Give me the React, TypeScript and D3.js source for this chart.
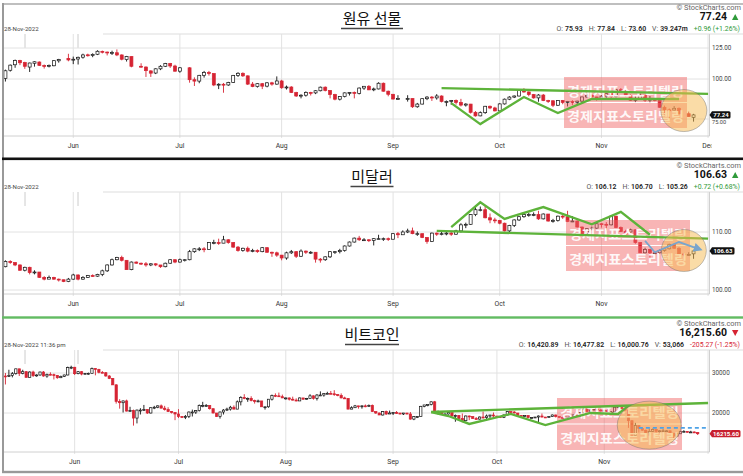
import React from "react";
import * as d3 from "d3";

type Bar = [string, number, number, number, number];

// WTI crude oil futures, daily [date, open, high, low, close]
const oilBars: Bar[] = [
  ["05-12",100.5,107.0,98.2,106.1],["05-13",106.5,111.0,105.5,110.5],["05-16",110.8,115.0,108.4,114.2],["05-17",114.3,114.8,110.5,112.4],
  ["05-18",112.6,113.2,107.6,109.6],["05-19",109.0,112.5,105.2,112.2],["05-20",112.0,113.6,109.3,113.2],["05-23",113.0,113.5,109.8,110.3],
  ["05-24",110.2,111.0,107.8,109.8],["05-25",109.9,111.0,108.7,110.3],["05-26",110.0,114.5,109.6,114.1],["05-27",114.0,115.6,112.5,115.1],
  ["05-31",116.0,119.9,113.6,114.7],["06-01",114.8,117.5,111.3,115.3],["06-02",115.5,117.5,111.0,116.9],["06-03",117.0,120.0,115.8,118.9],
  ["06-06",119.0,120.0,117.5,118.5],["06-07",118.4,120.3,117.0,119.4],["06-08",119.5,123.0,118.8,122.1],["06-09",122.0,122.7,120.2,121.5],
  ["06-10",121.4,121.8,118.5,120.7],["06-13",120.6,122.6,118.9,120.9],["06-14",120.8,123.7,117.9,118.9],["06-15",118.9,119.4,114.4,115.3],
  ["06-16",115.0,118.1,113.4,117.6],["06-17",117.5,117.8,108.8,109.6],["06-21",109.6,112.0,108.5,109.5],["06-22",109.0,109.5,101.5,106.2],
  ["06-23",106.0,106.5,101.5,104.3],["06-24",104.4,108.0,103.6,107.6],["06-27",107.6,110.5,106.6,109.6],["06-28",109.6,112.3,109.0,111.8],
  ["06-29",111.8,112.3,108.3,109.8],["06-30",109.8,110.8,105.4,105.8],["07-01",105.8,109.0,104.6,108.4],["07-05",108.4,108.9,97.4,99.5],
  ["07-06",99.5,101.2,95.1,98.5],["07-07",98.5,103.0,97.0,102.7],["07-08",102.7,106.0,101.0,104.8],["07-11",104.8,106.0,102.5,104.1],
  ["07-12",104.0,104.3,95.0,95.8],["07-13",95.8,97.0,93.0,96.3],["07-14",96.3,97.2,90.6,95.8],["07-15",95.8,98.0,95.2,97.6],
  ["07-18",97.6,103.0,97.2,102.6],["07-19",102.6,105.0,101.5,104.2],["07-20",104.2,104.9,101.5,102.3],["07-21",102.3,102.6,95.8,96.4],
  ["07-22",96.4,97.9,94.3,94.7],["07-25",94.7,97.0,94.0,96.7],["07-26",96.7,97.2,93.0,95.0],["07-27",95.0,97.8,94.2,97.3],
  ["07-28",97.3,98.0,95.3,96.4],["07-29",96.4,101.9,96.0,98.6],["08-01",98.6,99.4,93.2,93.9],["08-02",93.9,95.4,92.7,94.4],
  ["08-03",94.4,95.0,90.4,90.7],["08-04",90.7,91.2,87.9,88.5],["08-05",88.5,89.6,87.0,89.0],["08-08",89.0,91.5,88.1,90.8],
  ["08-09",90.8,91.2,88.8,90.5],["08-10",90.5,92.3,89.7,91.9],["08-11",91.9,94.7,91.5,94.3],["08-12",94.3,94.8,91.5,92.1],
  ["08-15",92.1,92.2,87.0,89.4],["08-16",89.4,89.9,85.8,86.5],["08-17",86.5,88.4,85.7,88.1],["08-18",88.1,90.8,87.6,90.5],
  ["08-19",90.5,91.0,88.8,90.8],["08-22",90.8,91.4,87.0,90.2],["08-23",90.2,94.1,89.5,93.7],["08-24",93.7,95.0,92.5,94.9],
  ["08-25",94.9,95.7,92.3,92.5],["08-26",92.5,94.0,91.6,93.1],["08-29",93.1,97.7,92.8,97.0],["08-30",97.0,97.5,91.3,91.6],
  ["08-31",91.6,92.0,88.3,89.6],["09-01",89.6,89.8,86.2,86.6],["09-02",86.6,89.0,86.3,86.9],["09-06",86.9,89.0,85.0,86.9],
  ["09-07",86.9,87.0,81.2,81.9],["09-08",81.9,84.2,81.3,83.5],["09-09",83.5,87.0,83.3,86.8],["09-12",86.8,88.4,85.9,87.8],
  ["09-13",87.8,88.5,85.4,87.3],["09-14",87.3,89.7,86.2,88.5],["09-15",88.5,88.9,84.5,85.1],["09-16",85.1,85.7,82.2,85.1],
  ["09-19",85.1,86.0,83.1,85.7],["09-20",85.7,86.3,83.2,84.5],["09-21",84.5,86.7,82.1,82.9],["09-22",82.9,84.0,82.0,83.5],
  ["09-23",83.5,83.6,78.0,78.7],["09-26",78.7,79.4,76.3,76.7],["09-27",76.7,79.2,76.5,78.5],["09-28",78.5,82.4,77.8,82.2],
  ["09-29",82.2,82.6,80.5,81.2],["09-30",81.2,81.9,79.2,79.5],["10-03",79.5,84.0,79.3,83.6],["10-04",83.6,86.9,83.2,86.5],
  ["10-05",86.5,88.4,85.9,87.8],["10-06",87.8,88.8,87.2,88.5],["10-07",88.5,93.0,88.2,92.6],["10-10",92.6,93.6,90.6,91.1],
  ["10-11",91.1,91.4,88.3,89.4],["10-12",89.4,89.8,86.8,87.3],["10-13",87.3,89.7,84.9,89.1],["10-14",89.1,89.8,85.3,85.6],
  ["10-17",85.6,86.1,84.2,85.5],["10-18",85.5,85.8,81.7,82.8],["10-19",82.8,85.8,82.5,85.6],["10-20",85.6,86.0,83.4,84.5],
  ["10-21",84.5,85.4,82.1,85.1],["10-24",85.1,85.9,82.9,84.6],["10-25",84.6,85.5,83.2,85.3],["10-26",85.3,88.0,84.8,87.9],
  ["10-27",87.9,89.8,87.4,89.1],["10-28",89.1,89.2,86.7,87.9],["10-31",87.9,88.0,85.6,86.5],["11-01",86.5,89.1,86.0,88.4],
  ["11-02",88.4,90.3,87.4,90.0],["11-03",90.0,90.1,87.2,88.2],["11-04",88.2,92.9,87.6,92.6],["11-07",92.6,93.7,91.1,91.8],
  ["11-08",91.8,92.4,88.2,88.9],["11-09",88.9,89.5,85.4,85.8],["11-10",85.8,88.5,84.7,86.5],["11-11",86.5,90.1,86.2,89.0],
  ["11-14",89.0,89.2,84.8,85.9],["11-15",85.9,88.5,84.6,86.9],["11-16",86.9,87.3,85.2,85.6],["11-17",85.6,85.7,81.3,81.6],
  ["11-18",81.6,82.6,77.2,80.1],["11-21",80.1,80.9,75.1,80.0],["11-22",80.0,82.3,79.8,81.0],["11-23",81.0,81.5,77.4,77.9],
  ["11-25",77.9,79.1,76.2,76.3],["11-28",75.93,77.84,73.6,77.24],
];

// US dollar index, daily [date, open, high, low, close]
const dollarBars: Bar[] = [
  ["05-12",103.9,105.0,103.8,104.8],["05-13",104.8,105.0,104.4,104.6],["05-16",104.6,104.7,104.0,104.2],["05-17",104.2,104.3,103.2,103.3],
  ["05-18",103.3,103.9,103.1,103.8],["05-19",103.8,103.9,102.6,102.9],["05-20",102.9,103.3,102.6,103.0],["05-23",103.0,103.0,102.0,102.1],
  ["05-24",102.1,102.3,101.6,101.8],["05-25",101.8,102.4,101.8,102.1],["05-26",102.1,102.2,101.7,101.8],["05-27",101.8,101.9,101.4,101.7],
  ["05-30",101.7,101.7,101.3,101.4],["05-31",101.4,102.0,101.3,101.8],["06-01",101.8,102.7,101.7,102.5],["06-02",102.5,102.6,101.6,101.8],
  ["06-03",101.8,102.3,101.7,102.1],["06-06",102.1,102.5,102.0,102.4],["06-07",102.4,102.6,102.2,102.3],["06-08",102.3,102.7,102.2,102.6],
  ["06-09",102.6,103.4,102.3,103.2],["06-10",103.2,104.3,103.0,104.2],["06-13",104.2,105.3,104.1,105.1],["06-14",105.1,105.6,105.0,105.5],
  ["06-15",105.5,105.8,104.8,105.0],["06-16",105.0,105.0,103.4,103.4],["06-17",103.4,104.8,103.3,104.7],["06-20",104.7,104.8,104.4,104.5],
  ["06-21",104.5,104.6,104.2,104.4],["06-22",104.4,104.7,103.9,104.2],["06-23",104.2,104.5,104.0,104.4],["06-24",104.4,104.5,104.0,104.2],
  ["06-27",104.2,104.2,103.7,103.9],["06-28",103.9,104.6,103.8,104.5],["06-29",104.5,105.2,104.4,105.1],["06-30",105.1,105.2,104.5,104.7],
  ["07-01",104.7,105.3,104.6,105.1],["07-04",105.1,105.2,104.8,105.1],["07-05",105.1,106.8,105.0,106.5],["07-06",106.5,107.1,106.3,107.0],
  ["07-07",107.0,107.3,106.6,107.0],["07-08",107.0,107.3,106.4,106.9],["07-11",106.9,108.2,106.9,108.1],["07-12",108.1,108.6,107.8,108.1],
  ["07-13",108.1,108.8,107.7,108.0],["07-14",108.0,109.3,108.0,108.6],["07-15",108.6,108.7,107.9,108.1],["07-18",108.1,108.2,107.2,107.3],
  ["07-19",107.3,107.5,106.5,106.7],["07-20",106.7,107.2,106.5,107.1],["07-21",107.1,107.4,106.4,106.6],["07-22",106.6,107.0,106.4,106.7],
  ["07-25",106.7,106.9,106.3,106.5],["07-26",106.5,107.3,106.4,107.2],["07-27",107.2,107.3,106.3,106.4],["07-28",106.4,106.5,105.6,106.3],
  ["07-29",106.3,106.5,105.6,105.9],["08-01",105.9,105.9,105.0,105.4],["08-02",105.4,106.5,105.1,106.3],["08-03",106.3,106.8,106.1,106.5],
  ["08-04",106.5,106.6,105.4,105.7],["08-05",105.7,106.9,105.6,106.6],["08-08",106.6,106.7,106.1,106.4],["08-09",106.4,106.6,106.1,106.4],
  ["08-10",106.4,106.4,104.6,105.2],["08-11",105.2,105.4,104.6,105.1],["08-12",105.1,105.7,104.9,105.6],["08-15",105.6,106.6,105.4,106.5],
  ["08-16",106.5,106.6,106.1,106.5],["08-17",106.5,107.0,106.2,106.7],["08-18",106.7,107.6,106.5,107.5],["08-19",107.5,108.3,107.4,108.2],
  ["08-22",108.2,109.0,108.1,108.9],["08-23",108.9,109.3,108.4,108.6],["08-24",108.6,108.9,108.4,108.6],["08-25",108.6,108.7,108.2,108.5],
  ["08-26",108.5,108.9,107.6,108.8],["08-29",108.8,109.5,108.7,108.8],["08-30",108.8,109.0,108.4,108.8],["08-31",108.8,109.0,108.4,108.7],
  ["09-01",108.7,109.8,108.7,109.7],["09-02",109.7,110.0,108.9,109.5],["09-05",109.5,110.3,109.5,110.0],["09-06",110.0,110.6,109.8,110.2],
  ["09-07",110.2,110.8,109.6,109.7],["09-08",109.7,110.1,109.3,109.7],["09-09",109.7,109.7,108.9,109.0],["09-12",109.0,109.1,107.9,108.3],
  ["09-13",108.3,109.9,108.2,109.8],["09-14",109.8,109.9,109.3,109.6],["09-15",109.6,110.0,109.4,109.7],["09-16",109.7,110.2,109.4,109.8],
  ["09-19",109.8,110.0,109.3,109.6],["09-20",109.6,110.4,109.5,110.2],["09-21",110.2,111.6,109.9,111.3],["09-22",111.3,111.7,110.7,111.4],
  ["09-23",111.4,113.3,111.3,113.2],["09-26",113.2,114.6,112.9,114.1],["09-27",114.1,114.7,113.8,114.1],["09-28",114.1,114.8,112.5,112.6],
  ["09-29",112.6,113.4,111.6,112.2],["09-30",112.2,112.6,111.6,112.1],["10-03",112.1,112.2,111.4,111.6],["10-04",111.6,111.7,110.1,110.2],
  ["10-05",110.2,111.3,110.0,111.2],["10-06",111.2,112.3,110.9,112.2],["10-07",112.2,112.9,112.0,112.8],["10-10",112.8,113.3,112.6,113.2],
  ["10-11",113.2,113.5,112.8,113.2],["10-12",113.2,113.6,112.9,113.2],["10-13",113.2,113.9,112.2,112.4],["10-14",112.4,113.4,112.3,113.3],
  ["10-17",113.3,113.3,111.9,112.0],["10-18",112.0,112.4,111.7,112.1],["10-19",112.1,113.0,111.9,112.9],["10-20",112.9,113.1,112.4,112.8],
  ["10-21",112.8,113.9,111.8,111.9],["10-24",111.9,112.9,111.8,112.0],["10-25",112.0,112.1,110.8,110.9],["10-26",110.9,111.0,109.6,109.7],
  ["10-27",109.7,110.7,109.5,110.6],["10-28",110.6,111.0,110.3,110.7],["10-31",110.7,111.6,110.6,111.5],["11-01",111.5,111.6,110.8,111.4],
  ["11-02",111.4,111.8,110.3,111.3],["11-03",111.3,113.1,111.2,112.9],["11-04",112.9,113.0,110.7,110.8],["11-07",110.8,111.0,110.0,110.1],
  ["11-08",110.1,110.4,109.4,109.6],["11-09",110.0,110.6,109.5,110.4],["11-10",110.4,110.5,107.9,108.1],["11-11",108.1,108.2,106.3,106.3],
  ["11-14",106.3,107.2,106.2,106.9],["11-15",106.9,107.0,105.3,106.3],["11-16",106.3,106.5,106.0,106.3],["11-17",106.3,106.9,106.1,106.7],
  ["11-18",106.7,107.2,106.5,107.0],["11-21",107.0,107.9,106.9,107.8],["11-22",107.8,108.0,107.0,107.1],["11-23",107.1,107.3,106.0,106.1],
  ["11-24",106.1,106.2,105.7,106.0],["11-25",106.0,106.4,105.8,106.0],["11-28",106.12,106.7,105.26,106.63],
];

// Bitcoin, 7 days a week, in thousands of USD [date, open, high, low, close]
const btcBars: Bar[] = [
  ["05-12",29.1,30.0,26.7,29.0],["05-13",29.0,31.0,28.8,29.3],["05-14",29.3,30.3,28.7,29.8],["05-15",29.8,31.3,29.5,31.3],
  ["05-16",31.3,31.3,29.1,29.9],["05-17",29.9,31.0,29.6,30.4],["05-18",30.4,30.6,28.7,28.7],["05-19",28.7,30.5,28.7,30.3],
  ["05-20",30.3,30.7,28.8,29.2],["05-21",29.2,29.6,28.9,29.4],["05-22",29.4,30.4,29.2,30.3],["05-23",30.3,30.6,28.9,29.1],
  ["05-24",29.1,29.8,28.6,29.6],["05-25",29.6,30.2,29.3,29.5],["05-26",29.5,29.8,28.1,29.3],["05-27",29.3,29.4,28.3,28.6],
  ["05-28",28.6,29.2,28.5,29.0],["05-29",29.0,29.5,28.8,29.4],["05-30",29.4,32.0,29.3,31.7],["05-31",31.7,32.3,31.2,31.8],
  ["06-01",31.8,31.9,29.4,29.8],["06-02",29.8,30.6,29.6,30.4],["06-03",30.4,30.6,29.3,29.7],["06-04",29.7,29.9,29.5,29.9],
  ["06-05",29.9,30.1,29.5,29.9],["06-06",29.9,31.7,29.9,31.4],["06-07",31.4,31.5,29.3,31.1],["06-08",31.1,31.3,29.9,30.2],
  ["06-09",30.2,30.6,30.0,30.1],["06-10",30.1,30.3,28.9,29.1],["06-11",29.1,29.4,28.2,28.4],["06-12",28.4,28.5,26.6,26.6],
  ["06-13",26.6,26.8,22.0,22.5],["06-14",22.5,23.0,20.9,22.2],["06-15",22.2,22.7,20.1,22.6],["06-16",22.6,22.9,20.3,20.4],
  ["06-17",20.4,21.3,20.3,20.5],["06-18",20.5,20.7,17.6,19.0],["06-19",19.0,20.7,18.0,20.6],["06-20",20.6,21.0,19.7,20.6],
  ["06-21",20.6,21.7,20.4,20.7],["06-22",20.7,20.8,19.8,20.0],["06-23",20.0,21.2,19.9,21.1],["06-24",21.1,21.5,20.8,21.2],
  ["06-25",21.2,21.6,21.0,21.5],["06-26",21.5,21.8,21.0,21.0],["06-27",21.0,21.5,20.5,20.7],["06-28",20.7,21.2,20.2,20.3],
  ["06-29",20.3,20.4,19.9,20.1],["06-30",20.1,20.1,18.6,19.8],["07-01",19.8,20.8,19.0,19.3],["07-02",19.3,19.4,19.0,19.2],
  ["07-03",19.2,19.6,18.8,19.3],["07-04",19.3,20.3,19.0,20.2],["07-05",20.2,20.7,19.3,20.2],["07-06",20.2,20.6,19.8,20.5],
  ["07-07",20.5,21.8,20.3,21.6],["07-08",21.6,22.4,21.2,21.6],["07-09",21.6,21.9,21.3,21.6],["07-10",21.6,21.6,20.7,20.9],
  ["07-11",20.9,20.9,19.9,20.0],["07-12",20.0,20.0,19.2,19.3],["07-13",19.3,20.3,18.9,20.2],["07-14",20.2,20.8,19.7,20.6],
  ["07-15",20.6,21.1,20.4,20.8],["07-16",20.8,21.5,20.5,21.2],["07-17",21.2,21.6,20.8,20.8],["07-18",20.8,22.7,20.8,22.4],
  ["07-19",22.4,23.7,21.6,23.4],["07-20",23.4,24.2,23.0,23.2],["07-21",23.2,23.4,22.4,23.2],["07-22",23.2,23.7,22.5,22.7],
  ["07-23",22.7,22.9,22.0,22.5],["07-24",22.5,22.9,22.3,22.6],["07-25",22.6,22.6,21.3,21.3],["07-26",21.3,21.3,20.7,21.3],
  ["07-27",21.3,23.0,21.1,23.0],["07-28",23.0,24.1,22.7,23.9],["07-29",23.9,24.4,23.5,23.8],["07-30",23.8,24.6,23.6,23.6],
  ["07-31",23.6,24.1,23.3,23.3],["08-01",23.3,23.4,22.9,23.3],["08-02",23.3,23.4,22.7,23.0],["08-03",23.0,23.6,22.7,22.8],
  ["08-04",22.8,23.2,22.5,22.6],["08-05",22.6,23.4,22.6,23.3],["08-06",23.3,23.3,22.9,23.0],["08-07",23.0,23.3,22.9,23.2],
  ["08-08",23.2,24.2,23.2,23.8],["08-09",23.8,23.9,22.9,23.2],["08-10",23.2,24.2,22.7,24.0],["08-11",24.0,24.9,23.9,24.0],
  ["08-12",24.0,24.4,23.6,24.4],["08-13",24.4,24.8,24.3,24.4],["08-14",24.4,25.0,24.2,24.3],["08-15",24.3,25.2,23.8,24.1],
  ["08-16",24.1,24.2,23.7,23.9],["08-17",23.9,24.4,23.2,23.3],["08-18",23.3,23.6,23.1,23.2],["08-19",23.2,23.2,20.8,20.8],
  ["08-20",20.8,21.4,20.8,21.1],["08-21",21.1,21.7,21.1,21.5],["08-22",21.5,21.5,20.9,21.4],["08-23",21.4,21.6,20.9,21.5],
  ["08-24",21.5,21.8,21.2,21.4],["08-25",21.4,21.8,21.3,21.6],["08-26",21.6,21.8,20.2,20.3],["08-27",20.3,20.3,19.8,20.0],
  ["08-28",20.0,20.1,19.6,19.6],["08-29",19.6,20.4,19.5,20.3],["08-30",20.3,20.5,19.6,19.8],["08-31",19.8,20.5,19.8,20.0],
  ["09-01",20.0,20.2,19.6,20.1],["09-02",20.1,20.4,19.8,20.0],["09-03",20.0,20.0,19.7,19.8],["09-04",19.8,20.0,19.6,20.0],
  ["09-05",20.0,20.0,19.7,19.8],["09-06",19.8,20.2,18.7,18.8],["09-07",18.8,19.4,18.6,19.3],["09-08",19.3,19.4,19.0,19.3],
  ["09-09",19.3,21.5,19.3,21.4],["09-10",21.4,21.7,21.2,21.7],["09-11",21.7,21.8,21.4,21.8],["09-12",21.8,22.5,21.6,22.4],
  ["09-13",22.4,22.6,20.0,20.2],["09-14",20.2,20.5,19.7,20.2],["09-15",20.2,20.3,19.6,19.7],["09-16",19.7,19.9,19.5,19.8],
  ["09-17",19.8,20.2,19.7,20.1],["09-18",20.1,20.1,19.4,19.4],["09-19",19.4,19.7,18.3,19.5],["09-20",19.5,19.6,18.8,18.9],
  ["09-21",18.9,19.9,18.2,18.5],["09-22",18.5,19.5,18.4,19.4],["09-23",19.4,19.5,18.6,19.3],["09-24",19.3,19.3,18.9,18.9],
  ["09-25",18.9,19.2,18.7,18.8],["09-26",18.8,19.3,18.7,19.2],["09-27",19.2,20.3,18.9,19.1],["09-28",19.1,19.7,18.5,19.4],
  ["09-29",19.4,19.6,18.9,19.6],["09-30",19.6,20.1,19.2,19.4],["10-01",19.4,19.4,19.2,19.3],["10-02",19.3,19.4,19.0,19.1],
  ["10-03",19.1,19.7,19.0,19.6],["10-04",19.6,20.4,19.5,20.3],["10-05",20.3,20.3,19.8,20.2],["10-06",20.2,20.4,19.9,20.0],
  ["10-07",20.0,20.0,19.3,19.5],["10-08",19.5,19.6,19.3,19.4],["10-09",19.4,19.5,19.3,19.5],["10-10",19.5,19.5,19.0,19.1],
  ["10-11",19.1,19.2,18.9,19.1],["10-12",19.1,19.2,19.0,19.2],["10-13",19.2,19.5,18.2,19.4],["10-14",19.4,19.9,19.1,19.2],
  ["10-15",19.2,19.2,19.0,19.1],["10-16",19.1,19.4,19.1,19.3],["10-17",19.3,19.7,19.2,19.6],["10-18",19.6,19.7,19.1,19.3],
  ["10-19",19.3,19.4,19.1,19.1],["10-20",19.1,19.3,18.9,19.0],["10-21",19.0,19.2,18.7,19.2],["10-22",19.2,19.3,19.1,19.2],
  ["10-23",19.2,19.7,19.1,19.6],["10-24",19.6,19.6,19.2,19.3],["10-25",19.3,20.4,19.3,20.1],["10-26",20.1,21.0,20.1,20.8],
  ["10-27",20.8,20.9,20.2,20.3],["10-28",20.3,20.7,20.0,20.6],["10-29",20.6,21.0,20.6,20.8],["10-30",20.8,20.9,20.5,20.6],
  ["10-31",20.6,20.8,20.3,20.5],["11-01",20.5,20.6,20.3,20.5],["11-02",20.5,20.8,20.1,20.2],["11-03",20.2,20.4,20.1,20.2],
  ["11-04",20.2,21.3,20.2,21.2],["11-05",21.2,21.5,21.1,21.3],["11-06",21.3,21.4,20.9,20.9],["11-07",20.9,21.0,20.4,20.6],
  ["11-08",20.6,20.7,17.2,18.5],["11-09",18.5,18.6,15.7,15.9],["11-10",15.9,18.1,15.8,17.6],["11-11",17.6,17.6,16.4,17.1],
  ["11-12",17.1,17.1,16.7,16.8],["11-13",16.8,16.9,16.3,16.4],["11-14",16.4,17.1,15.9,16.6],["11-15",16.6,17.1,16.5,16.9],
  ["11-16",16.9,17.0,16.4,16.6],["11-17",16.6,16.8,16.4,16.7],["11-18",16.7,17.0,16.6,16.7],["11-19",16.7,16.8,16.6,16.7],
  ["11-20",16.7,16.7,16.2,16.3],["11-21",16.3,16.3,15.5,15.8],["11-22",15.8,16.3,15.7,16.2],["11-23",16.2,16.7,16.2,16.6],
  ["11-24",16.6,16.8,16.5,16.6],["11-25",16.6,16.6,16.4,16.5],["11-26",16.5,16.7,16.4,16.5],["11-27",16.5,16.6,16.4,16.4],
  ["11-28",16.42089,16.47782,16.00076,16.2156],
];

const oilTicks = [125, 100, 75];
const dollarTicks = [110, 100];
const btcTicks = [30000, 20000];

const GREEN = "#5db33a";
const RED = "#d62433";
const UI_FONT = "Roboto, 'Open Sans', sans-serif";
const KR_FONT = "'Noto Sans CJK KR', 'Noto Sans', sans-serif";
const STAMP = "경제지표스토리텔링";

// --- x scales ---
const key = d3.timeFormat("%m-%d");
const toDate = (k: string) => new Date(2022, +k.slice(0, 2) - 1, +k.slice(3));
const start = new Date(2022, 4, 12);
const end = new Date(2022, 11, 1);
const weekdays = d3.timeDay.range(start, d3.timeDay.offset(end, 1)).filter(d => d.getDay() % 6 !== 0);
const band = d3.scaleBand<string>().domain(weekdays.map(key)).range([3, 710.5]).padding(0);
const xDay = (k: string) => (band(k) ?? 0) + band.bandwidth() / 2;
const xTime = d3.scaleTime().domain([start, end]).range([xDay("05-12"), xDay("12-01")]);
const xCal = (k: string) => xTime(toDate(k));
const monthStarts = d3.timeMonth.range(new Date(2022, 5, 1), new Date(2022, 11, 2));

const PLOT_L = 3, PLOT_R = 709.5, PLOT_T = 34, PLOT_B = 136;

type Pt = [string, number];
const panels = [
  {
    top: 0, bars: oilBars, unit: 1, daily: false, ticks: oilTicks, fmt: d3.format(".2f"),
    yDomain: [75, 125], yRange: [119, 48], tagFill: "#111", tagW: 18, showDec: true,
    title: "원유 선물", titleW: 62, price: "77.24", up: true,
    fields: [["O:", "75.93"], ["H:", "77.84"], ["L:", "73.60"], ["V:", "39.247m"]], change: "+0.96 (+1.26%)",
    stampDate: "28-Nov-2022",
    green: [
      [["09-15", 93.7], ["12-01", 89.9]],
      [["09-19", 84.1], ["09-27", 72.3], ["10-10", 87.9], ["10-19", 78.3], ["10-28", 86.6], ["11-23", 86.6]],
    ] as Pt[][],
    blue: null as Pt[] | null, dashed: null as Pt[] | null,
    ellipse: { at: ["11-24", 79.7] as Pt, rx: 23, ry: 21 },
    stamp: { x: 564, y: 77, w: 123, h: 51 },
  },
  {
    top: 158, bars: dollarBars, unit: 1, daily: false, ticks: dollarTicks, fmt: d3.format(".2f"),
    yDomain: [100, 110], yRange: [132, 74], tagFill: "#111", tagW: 22, showDec: false,
    title: "미달러", titleW: 43, price: "106.63", up: true,
    fields: [["O:", "106.12"], ["H:", "106.70"], ["L:", "105.26"]], change: "+0.72 (+0.68%)",
    stampDate: "28-Nov-2022",
    green: [
      [["09-14", 110.2], ["12-01", 108.8]],
      [["09-19", 110.9], ["09-27", 115.5], ["10-04", 112.4], ["10-14", 114.6], ["10-28", 111.4], ["11-07", 113.7], ["11-15", 109.5]],
    ] as Pt[][],
    blue: [["11-14", 108.4], ["11-16", 106.4], ["11-23", 108.2], ["11-29", 107.0]] as Pt[],
    dashed: null as Pt[] | null,
    ellipse: { at: ["11-24", 106.7] as Pt, rx: 22.5, ry: 21 },
    stamp: { x: 566, y: 62, w: 124, h: 51 },
  },
  {
    top: 316, bars: btcBars, unit: 1000, daily: true, ticks: btcTicks, fmt: d3.format("d"),
    yDomain: [20000, 30000], yRange: [97, 57], tagFill: "#c8202f", tagW: 28, showDec: false,
    title: "비트코인", titleW: 54, price: "16,215.60", up: false,
    fields: [["O:", "16,420.89"], ["H:", "16,477.82"], ["L:", "16,000.76"], ["V:", "53,066"]], change: "-205.27 (-1.25%)",
    stampDate: "28-Nov-2022 11:36 pm",
    green: [
      [["09-12", 20200], ["12-01", 22130]],
      [["09-12", 20200], ["09-17", 19400], ["09-23", 17900], ["10-05", 19800], ["10-15", 17700], ["10-28", 20000], ["11-05", 19800], ["11-08", 21500]],
    ] as Pt[][],
    blue: null as Pt[] | null,
    dashed: [["11-11", 17200], ["12-01", 17200]] as Pt[],
    ellipse: { at: ["11-14", 17680] as Pt, rx: 32, ry: 24 },
    stamp: { x: 557, y: 82, w: 125, h: 52 },
  },
];

type PanelCfg = typeof panels[number];

function Panel({ p, idx }: { p: PanelCfg; idx: number }) {
  const x = p.daily ? xCal : xDay;
  const y = d3.scaleLog().domain(p.yDomain).range(p.yRange);
  const months = monthStarts.map(m => {
    const d = p.daily ? m : d3.timeDay.range(m, d3.timeDay.offset(m, 7)).find(dd => dd.getDay() % 6 !== 0)!;
    return { label: d3.timeFormat("%b")(m), x: p.daily ? xTime(d) : xDay(key(d)), dec: m.getMonth() === 11 };
  });
  const bw = p.daily ? 2.3 : 3;
  const line = d3.line<Pt>().x(d => x(d[0])).y(d => y(d[1]));
  const last = p.bars[p.bars.length - 1][4] * p.unit;
  const ty = y(last);
  const clipId = `clip${idx}`;
  const labClip = `lab${idx}`;

  return (
    <g transform={`translate(0,${p.top})`}>
      <defs>
        <clipPath id={clipId}><rect x={PLOT_L} y={PLOT_T} width={PLOT_R - PLOT_L} height={PLOT_B - PLOT_T} /></clipPath>
        <clipPath id={labClip}><rect x={0} y={PLOT_B} width={711.5} height={20} /></clipPath>
        <marker id={`arr${idx}`} viewBox="0 0 10 10" refX="5" refY="5" markerWidth="5" markerHeight="5" orient="auto">
          <path d="M0,0 L10,5 L0,10 Z" fill="#79a5cc" />
        </marker>
      </defs>

      {/* header */}
      <text x={741} y={9.5} textAnchor="end" fontSize={7.4} fill="#666" fontFamily={UI_FONT}>© StockCharts.com</text>
      <text x={727} y={20.3} textAnchor="end" fontSize={10.5} fontWeight={700} fill="#111" fontFamily={UI_FONT}>{p.price}</text>
      <path d={p.up ? "M732,20 L735.2,14 L738.4,20 Z" : "M732,14 L738.4,14 L735.2,20 Z"} fill={p.up ? "#2f9a3a" : RED} />
      <text x={740} y={31.3} textAnchor="end" fontSize={6.9} fontFamily={UI_FONT}>
        {p.fields.map(([k, v], i) => (
          <React.Fragment key={k}>
            <tspan dx={i ? 6 : 0} fill="#555">{k}</tspan>
            <tspan dx={2} fill="#222" fontWeight={600}>{v}</tspan>
          </React.Fragment>
        ))}
        <tspan dx={6} fill={p.up ? "#2f9a3a" : RED}>{p.change}</tspan>
      </text>
      <text x={4} y={30.7} fontSize={6.1} fill="#444" fontFamily={UI_FONT}>{p.stampDate}</text>
      <text x={372} y={24} textAnchor="middle" fontSize={15} fill="#111" fontFamily={KR_FONT}>{p.title}</text>
      <line x1={372 - p.titleW / 2} x2={372 + p.titleW / 2} y1={28.5} y2={28.5} stroke="#444" strokeWidth={1.3} />

      {/* frame */}
      <line x1={103} x2={743} y1={PLOT_T} y2={PLOT_T} stroke="#ddd" />
      <line x1={25} x2={25} y1={PLOT_T} y2={PLOT_T + 14} stroke="#ccc" />
      <line x1={78} x2={78} y1={PLOT_T} y2={PLOT_T + 14} stroke="#ccc" />
      {p.ticks.map(t => (
        <line key={t} x1={PLOT_L} x2={PLOT_R} y1={y(t)} y2={y(t)} stroke="#e2e2e2" />
      ))}
      {months.map(m => (
        <line key={m.label} x1={m.x} x2={m.x} y1={PLOT_T} y2={PLOT_B + 2} stroke="#e2e2e2" />
      ))}
      <line x1={PLOT_L} x2={PLOT_R} y1={PLOT_B} y2={PLOT_B} stroke="#d0d0d0" />
      <line x1={PLOT_R} x2={PLOT_R} y1={PLOT_T} y2={PLOT_B} stroke="#d0d0d0" />
      <g clipPath={`url(#${labClip})`}>
        {months.filter(m => !m.dec || p.showDec).map(m => (
          <text key={m.label} x={m.x} y={148} textAnchor="middle" fontSize={6.8} fill="#333" fontFamily={UI_FONT}>{m.label}</text>
        ))}
      </g>
      {p.ticks.map(t => {
        // a label that sits under the price tag is pushed just below it
        const near = Math.abs(y(t) - ty) < 8;
        const ly = near ? ty + 8.6 : y(t) + 2.3;
        return (
          <text key={t} x={712} y={ly} fontSize={near ? 5.6 : 6.3} fill="#444" fontFamily={UI_FONT}>{p.fmt(t)}</text>
        );
      })}

      {/* candles */}
      <g clipPath={`url(#${clipId})`}>
        {p.bars.map((b, i) => {
          const [k, o0, h0, l0, c0] = b;
          const [o, h, l, c] = [o0, h0, l0, c0].map(v => v * p.unit);
          const prev = i > 0 ? p.bars[i - 1][4] * p.unit : o;
          const col = c >= prev ? "#111" : RED;
          const cx = x(k);
          const yt = y(Math.max(o, c)), yb = y(Math.min(o, c));
          return (
            <g key={k}>
              <line x1={cx} x2={cx} y1={y(h)} y2={y(l)} stroke={col} strokeWidth={0.9} />
              <rect x={cx - bw / 2} y={yt} width={bw} height={Math.max(0.9, yb - yt)}
                fill={c < o ? col : "#fff"} stroke={col} strokeWidth={0.7} />
            </g>
          );
        })}
      </g>

      {/* price tag */}
      <path d={`M709.5,${ty} L712,${ty - 3.6} H${711 + p.tagW} a1.5,1.5 0 0 1 1.5,1.5 V${ty + 2.1} a1.5,1.5 0 0 1 -1.5,1.5 H712 Z`} fill={p.tagFill} />
      <text x={712 + p.tagW / 2} y={ty + 2.1} textAnchor="middle" fontSize={6} fontWeight={700} fill="#fff" fontFamily={UI_FONT}>
        {d3.format(".2f")(last)}
      </text>

      {/* annotations */}
      <g>
        <rect x={p.stamp.x} y={p.stamp.y} width={p.stamp.w} height={p.stamp.h / 2 - 0.5} fill="rgba(240,100,100,0.48)" />
        <rect x={p.stamp.x} y={p.stamp.y + p.stamp.h / 2 + 0.5} width={p.stamp.w} height={p.stamp.h / 2 - 0.5} fill="rgba(240,100,100,0.48)" />
        {[0.27, 0.76].map(f => (
          <text key={f} x={p.stamp.x + 3} y={p.stamp.y + p.stamp.h * f + 5} textLength={p.stamp.w - 6} lengthAdjust="spacingAndGlyphs"
            fontSize={13} fontWeight={700} fill="#fff" fillOpacity={0.92} fontFamily={KR_FONT}>{STAMP}</text>
        ))}
      </g>
      {p.green.map((g, i) => (
        <path key={i} d={line(g) ?? ""} fill="none" stroke={GREEN} strokeWidth={2.3} strokeLinejoin="miter" />
      ))}
      <ellipse cx={x(p.ellipse.at[0])} cy={y(p.ellipse.at[1])} rx={p.ellipse.rx} ry={p.ellipse.ry}
        fill="rgba(245,185,80,0.5)" stroke="rgba(110,110,110,0.55)" strokeWidth={0.8} />
      {p.blue && (
        <path d={line(p.blue) ?? ""} fill="none" stroke="#79a5cc" strokeWidth={1.8} markerEnd={`url(#arr${idx})`} />
      )}
      {p.dashed && (
        <path d={line(p.dashed) ?? ""} fill="none" stroke="#4ea2e6" strokeWidth={1.8} strokeDasharray="4,3" />
      )}
    </g>
  );
}

export default function App() {
  return (
    <svg width={743} height={476} style={{ position: "absolute", left: 0, top: 0, background: "#fff" }}>
      <rect width={743} height={476} fill="#fff" />
      {panels.map((p, i) => <Panel key={i} p={p} idx={i} />)}
      {/* borders and separators */}
      <line x1={2} x2={743} y1={4} y2={4} stroke="#aaa" strokeWidth={1.5} />
      <line x1={3} x2={3} y1={3} y2={473} stroke="#999" strokeWidth={2} />
      <rect x={2} y={157.5} width={741} height={2.6} fill="#111" />
      <rect x={2} y={316.3} width={741} height={2.4} fill="#62bb62" />
      <rect x={2} y={470.8} width={741} height={2.4} fill="#999" />
    </svg>
  );
}
